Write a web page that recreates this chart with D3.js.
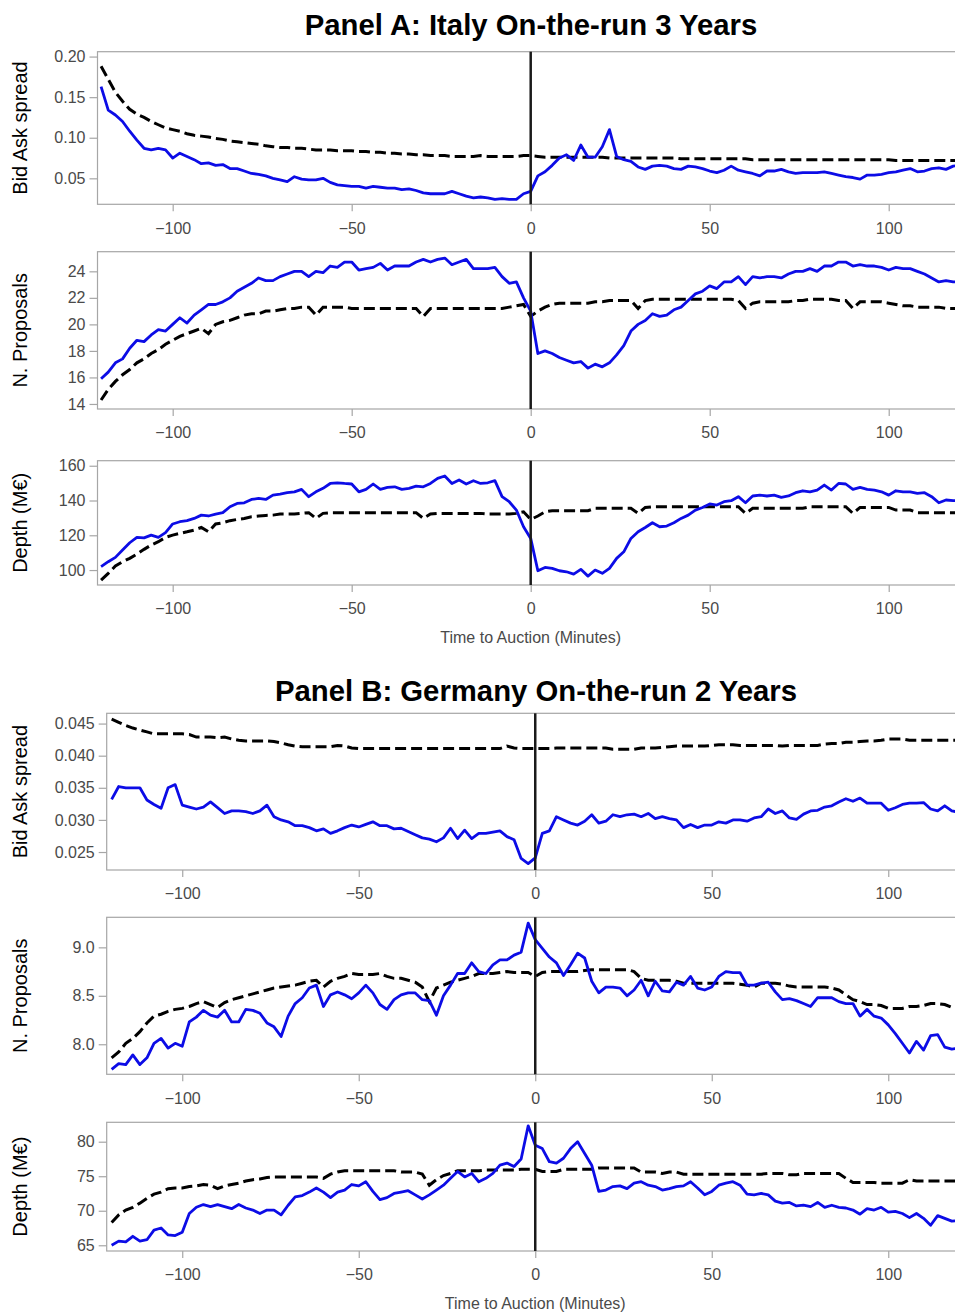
<!DOCTYPE html>
<html>
<head>
<meta charset="utf-8">
<script src="https://cdn.jsdelivr.net/npm/d3@7"></script>
<style>
  body { margin: 0; background: #fff; }
  svg { display: block; font-family: "Liberation Sans", Arial, sans-serif; }
</style>
</head>
<body>
<svg id="chart" width="955" height="1312"></svg>
<script>
// Time grid: minutes relative to the auction, every 2 minutes
const minutes = d3.range(-120, 121, 2);

// ---------- Panel A: Italy on-the-run 3 years ----------
// Solid blue = auction days, dashed black = other days
const itSpreadAuction = [
  0.163,0.134,0.128,0.120,0.108,0.097,0.087,0.085,0.087,0.085,
  0.075,0.081,0.077,0.073,0.068,0.069,0.066,0.067,0.062,0.062,
  0.059,0.056,0.055,0.053,0.050,0.048,0.046,0.052,0.049,0.048,
  0.048,0.050,0.045,0.042,0.041,0.040,0.040,0.038,0.040,0.039,
  0.038,0.038,0.036,0.037,0.035,0.032,0.031,0.031,0.031,0.034,
  0.031,0.028,0.026,0.027,0.026,0.024,0.025,0.024,0.024,0.031,
  0.034,
  0.053,0.058,0.066,0.075,0.079,0.072,0.091,0.076,0.076,0.089,
  0.110,0.077,0.073,0.071,0.064,0.061,0.065,0.066,0.065,0.062,
  0.061,0.065,0.064,0.062,0.059,0.057,0.060,0.065,0.060,0.058,
  0.056,0.053,0.059,0.059,0.061,0.058,0.056,0.057,0.057,0.057,
  0.058,0.056,0.054,0.052,0.051,0.049,0.054,0.054,0.055,0.057,
  0.058,0.060,0.062,0.058,0.059,0.062,0.063,0.061,0.065,0.066
];
const itSpreadOther = [
  0.188,0.172,0.156,0.145,0.135,0.129,0.125,0.120,0.116,0.112,
  0.110,0.108,0.105,0.103,0.102,0.101,0.099,0.098,0.096,0.095,
  0.094,0.093,0.092,0.090,0.089,0.088,0.088,0.087,0.087,0.086,
  0.085,0.085,0.085,0.084,0.084,0.084,0.083,0.083,0.082,0.082,
  0.081,0.081,0.080,0.080,0.079,0.079,0.078,0.078,0.078,0.077,
  0.077,0.077,0.077,0.078,0.077,0.077,0.077,0.077,0.077,0.078,
  0.078,
  0.077,0.076,0.076,0.076,0.076,0.076,0.076,0.076,0.076,0.076,
  0.075,0.075,0.075,0.075,0.075,0.075,0.075,0.075,0.075,0.075,
  0.074,0.074,0.074,0.074,0.074,0.074,0.074,0.074,0.074,0.074,
  0.073,0.073,0.073,0.073,0.073,0.073,0.073,0.073,0.073,0.073,
  0.073,0.073,0.073,0.073,0.073,0.073,0.073,0.073,0.073,0.073,
  0.072,0.072,0.072,0.072,0.072,0.072,0.072,0.072,0.072,0.072
];
const itProposalsAuction = [
  15.9,16.4,17.1,17.4,18.2,18.8,18.7,19.2,19.6,19.5,
  20.0,20.5,20.1,20.7,21.1,21.5,21.5,21.7,22.0,22.5,
  22.8,23.1,23.5,23.3,23.3,23.6,23.8,24.0,24.0,23.6,
  24.0,23.9,24.4,24.3,24.7,24.7,24.1,24.2,24.3,24.6,
  24.1,24.4,24.4,24.4,24.7,24.9,24.7,24.9,25.0,24.5,
  24.7,24.9,24.2,24.2,24.2,24.3,23.6,23.1,23.2,22.0,
  21.0,
  17.8,18.0,17.8,17.5,17.3,17.1,17.2,16.7,17.0,16.8,
  17.1,17.7,18.4,19.5,20.0,20.3,20.8,20.6,20.7,21.1,
  21.3,21.8,22.3,22.5,22.9,22.7,23.2,23.2,23.6,23.0,
  23.6,23.5,23.6,23.6,23.5,23.8,24.0,24.0,24.2,24.0,
  24.4,24.4,24.7,24.7,24.4,24.5,24.4,24.4,24.3,24.1,
  24.3,24.2,24.2,24.0,23.8,23.5,23.2,23.3,23.2,23.2
];
const itProposalsOther = [
  14.3,15.1,15.7,16.2,16.6,17.1,17.4,17.8,18.1,18.5,
  18.8,19.1,19.3,19.5,19.7,19.3,20.0,20.2,20.3,20.5,
  20.7,20.8,20.8,21.0,21.0,21.1,21.2,21.2,21.3,21.3,
  20.7,21.3,21.3,21.3,21.3,21.2,21.2,21.2,21.2,21.2,
  21.2,21.2,21.2,21.2,21.2,20.6,21.2,21.2,21.2,21.2,
  21.2,21.2,21.2,21.2,21.2,21.2,21.2,21.3,21.4,21.5,
  20.6,
  21.0,21.3,21.5,21.6,21.6,21.6,21.6,21.6,21.7,21.7,
  21.8,21.8,21.8,21.8,21.2,21.8,21.9,21.9,21.9,21.9,
  21.9,21.9,21.9,21.9,21.9,21.9,21.9,21.9,21.8,21.2,
  21.6,21.7,21.7,21.7,21.7,21.7,21.8,21.8,21.9,21.9,
  21.9,21.9,21.8,21.8,21.2,21.7,21.7,21.7,21.7,21.6,
  21.5,21.4,21.4,21.3,21.3,21.3,21.3,21.2,21.2,21.2
];
const itDepthAuction = [
  102.0,104.8,107.3,111.5,115.7,118.8,118.5,120.1,118.8,121.5,
  126.5,127.8,128.4,129.7,131.6,131.1,132.2,133.0,136.4,138.3,
  138.7,140.6,141.2,140.6,143.1,143.7,144.5,145.0,146.4,142.2,
  145.0,147.0,149.8,150.2,149.8,149.5,145.0,146.4,149.5,146.4,
  147.5,147.9,146.4,147.0,148.3,147.9,149.8,152.7,154.1,149.8,
  151.8,149.5,151.4,149.8,150.2,151.4,142.2,139.3,134.5,124.9,
  118.2,
  99.6,101.5,101.0,99.6,99.0,97.7,100.4,96.5,100.0,98.1,
  101.0,106.7,110.5,118.2,122.0,124.5,127.2,124.9,125.3,127.2,
  129.7,131.6,134.5,136.0,138.0,137.4,139.3,139.9,142.2,138.7,
  142.6,143.1,142.6,143.1,141.8,142.6,144.5,145.6,145.0,146.0,
  148.9,146.0,149.8,149.5,146.4,147.5,146.4,146.0,145.0,143.1,
  145.6,145.0,145.0,144.1,144.5,142.2,138.7,140.3,139.9,140.0
];
const itDepthOther = [
  94.2,98.1,102.3,104.8,106.7,109.2,111.9,114.4,116.3,118.8,
  120.1,121.1,122.0,123.0,124.5,122.0,126.5,127.2,128.4,129.1,
  129.7,130.7,131.1,131.4,131.6,132.2,132.2,132.2,132.6,133.0,
  129.7,132.6,133.0,133.0,133.0,133.0,133.0,133.0,133.0,133.0,
  133.0,133.0,133.0,133.0,133.0,129.7,132.2,132.6,132.6,132.6,
  132.6,132.6,132.6,132.6,132.2,132.2,132.2,132.2,132.6,133.5,
  129.1,
  131.1,133.5,134.1,134.1,134.1,134.1,134.1,134.1,135.5,135.5,
  135.5,135.5,135.5,135.5,132.6,136.0,136.4,136.4,136.4,136.4,
  136.4,136.4,136.4,136.4,136.4,136.4,136.4,136.4,136.4,132.6,
  135.5,135.5,135.5,135.5,135.5,135.5,135.5,135.5,136.4,136.4,
  136.4,136.4,136.4,136.4,132.6,136.0,136.0,136.0,136.0,136.0,
  134.5,134.5,134.5,133.0,133.0,133.0,133.0,133.0,133.0,133.0
];

// ---------- Panel B: Germany on-the-run 2 years ----------
const deSpreadAuction = [
  0.0332,0.0352,0.0350,0.0350,0.0350,0.0331,0.0324,0.0318,0.0350,0.0355,
  0.0323,0.0320,0.0317,0.0320,0.0328,0.0319,0.0310,0.0314,0.0314,0.0313,
  0.0310,0.0314,0.0323,0.0305,0.0300,0.0297,0.0291,0.0291,0.0288,0.0283,
  0.0286,0.0279,0.0283,0.0288,0.0292,0.0289,0.0293,0.0297,0.0291,0.0291,
  0.0286,0.0287,0.0282,0.0277,0.0272,0.0270,0.0266,0.0272,0.0287,0.0271,
  0.0284,0.0271,0.0279,0.0279,0.0281,0.0283,0.0274,0.0269,0.0240,0.0232,
  0.0241,
  0.0279,0.0283,0.0305,0.0300,0.0295,0.0292,0.0298,0.0308,0.0295,0.0298,
  0.0308,0.0305,0.0308,0.0309,0.0305,0.0310,0.0302,0.0305,0.0302,0.0300,
  0.0288,0.0293,0.0288,0.0292,0.0292,0.0297,0.0295,0.0300,0.0300,0.0298,
  0.0303,0.0305,0.0317,0.0310,0.0314,0.0303,0.0301,0.0309,0.0314,0.0315,
  0.0320,0.0322,0.0328,0.0333,0.0329,0.0334,0.0326,0.0326,0.0326,0.0315,
  0.0319,0.0324,0.0326,0.0326,0.0327,0.0317,0.0314,0.0322,0.0314,0.0312
];
const deSpreadOther = [
  0.0457,0.0452,0.0447,0.0443,0.0440,0.0437,0.0434,0.0434,0.0434,0.0434,
  0.0434,0.0433,0.0429,0.0429,0.0429,0.0428,0.0429,0.0426,0.0424,0.0423,
  0.0423,0.0423,0.0423,0.0422,0.0420,0.0417,0.0415,0.0414,0.0414,0.0414,
  0.0414,0.0414,0.0416,0.0415,0.0412,0.0411,0.0411,0.0411,0.0411,0.0411,
  0.0411,0.0411,0.0411,0.0411,0.0411,0.0411,0.0411,0.0411,0.0411,0.0411,
  0.0411,0.0411,0.0411,0.0411,0.0411,0.0411,0.0415,0.0412,0.0411,0.0411,
  0.0411,
  0.0411,0.0411,0.0412,0.0412,0.0412,0.0412,0.0412,0.0412,0.0412,0.0412,
  0.0410,0.0410,0.0410,0.0410,0.0412,0.0412,0.0412,0.0413,0.0414,0.0415,
  0.0415,0.0415,0.0415,0.0415,0.0416,0.0417,0.0417,0.0417,0.0416,0.0416,
  0.0416,0.0416,0.0416,0.0416,0.0415,0.0416,0.0416,0.0416,0.0416,0.0416,
  0.0418,0.0419,0.0419,0.0421,0.0421,0.0422,0.0423,0.0423,0.0424,0.0426,
  0.0426,0.0426,0.0424,0.0424,0.0424,0.0424,0.0424,0.0424,0.0424,0.0424
];
const deProposalsAuction = [
  7.74,7.80,7.79,7.89,7.79,7.86,8.01,8.06,7.96,8.01,
  7.98,8.23,8.28,8.35,8.30,8.28,8.35,8.23,8.23,8.36,
  8.35,8.32,8.22,8.18,8.08,8.29,8.42,8.48,8.58,8.61,
  8.39,8.51,8.54,8.51,8.47,8.53,8.61,8.53,8.41,8.36,
  8.46,8.51,8.53,8.53,8.46,8.45,8.30,8.50,8.61,8.73,
  8.73,8.84,8.75,8.73,8.82,8.87,8.87,8.92,8.95,9.25,
  9.08,
  8.99,8.90,8.84,8.71,8.82,8.94,8.89,8.65,8.53,8.59,
  8.59,8.58,8.50,8.56,8.66,8.50,8.65,8.55,8.54,8.64,
  8.61,8.70,8.58,8.56,8.59,8.70,8.75,8.74,8.74,8.61,
  8.61,8.63,8.64,8.54,8.46,8.47,8.45,8.42,8.39,8.48,
  8.48,8.48,8.44,8.42,8.42,8.29,8.36,8.29,8.27,8.20,
  8.11,8.01,7.91,8.03,7.94,8.09,8.10,7.97,7.95,7.96
];
const deProposalsOther = [
  7.86,7.92,8.01,8.06,8.13,8.22,8.29,8.31,8.34,8.36,
  8.37,8.39,8.42,8.44,8.41,8.38,8.43,8.46,8.48,8.50,
  8.52,8.54,8.56,8.58,8.59,8.60,8.61,8.63,8.65,8.66,
  8.59,8.65,8.68,8.70,8.73,8.72,8.72,8.72,8.73,8.70,
  8.68,8.68,8.66,8.64,8.59,8.44,8.58,8.61,8.64,8.66,
  8.68,8.70,8.73,8.73,8.73,8.74,8.75,8.74,8.74,8.74,
  8.70,
  8.74,8.75,8.75,8.75,8.75,8.75,8.76,8.77,8.77,8.77,
  8.77,8.77,8.77,8.75,8.68,8.66,8.66,8.66,8.66,8.65,
  8.63,8.63,8.63,8.63,8.63,8.63,8.63,8.63,8.62,8.61,
  8.59,8.63,8.63,8.63,8.62,8.60,8.59,8.59,8.59,8.59,
  8.59,8.58,8.56,8.51,8.46,8.44,8.41,8.41,8.40,8.37,
  8.37,8.37,8.39,8.39,8.40,8.42,8.42,8.41,8.38,8.37
];
const deDepthAuction = [
  65.0,65.6,65.5,66.3,65.6,65.8,67.2,67.5,66.5,66.4,
  66.9,69.6,70.5,70.9,70.6,70.9,70.6,70.3,70.9,70.4,
  70.1,69.6,70.1,70.1,69.4,70.8,72.0,72.2,72.7,73.3,
  72.7,71.9,72.7,73.0,73.8,73.6,74.2,72.8,71.6,71.9,
  72.5,72.7,72.9,72.3,71.7,72.3,73.0,73.7,74.7,75.7,
  74.9,75.4,74.2,74.7,75.4,76.6,76.9,76.4,77.5,82.3,
  79.5,
  79.0,77.1,76.9,77.6,79.0,80.0,78.3,76.6,72.8,73.0,
  73.5,73.6,73.2,74.0,74.2,73.7,73.5,73.0,73.2,73.5,
  73.6,74.2,73.3,72.3,72.8,73.7,74.0,74.2,73.7,72.4,
  72.3,72.5,72.3,71.4,71.1,71.2,70.7,70.8,70.6,71.2,
  70.5,70.8,70.5,70.4,70.1,69.5,70.3,70.1,70.5,69.8,
  69.9,69.6,69.0,69.6,68.9,67.9,69.3,68.9,68.5,68.6
];
const deDepthOther = [
  68.3,69.4,70.1,70.5,71.1,71.8,72.4,72.7,73.2,73.3,
  73.3,73.5,73.6,73.8,73.7,73.2,73.6,73.8,74.0,74.3,
  74.5,74.6,74.8,74.9,74.9,74.9,74.9,74.9,74.9,74.9,
  74.7,75.3,75.6,75.8,75.8,75.8,75.8,75.8,75.8,75.8,
  75.8,75.6,75.6,75.6,75.3,73.7,74.5,75.1,75.4,75.8,
  75.8,75.8,75.8,75.9,75.9,75.9,75.9,75.9,76.0,76.0,
  76.0,
  75.7,75.7,75.7,76.0,76.0,76.0,76.0,76.0,76.2,76.2,
  76.2,76.2,76.2,76.2,75.6,75.6,75.6,75.4,75.6,75.6,
  75.3,75.3,75.3,75.3,75.3,75.3,75.3,75.3,75.3,75.3,
  75.3,75.3,75.4,75.4,75.4,75.2,75.2,75.4,75.4,75.4,
  75.4,75.4,75.4,74.7,74.1,74.1,74.1,74.1,74.0,74.0,
  74.0,74.0,74.5,74.3,74.3,74.3,74.3,74.3,74.3,74.3
];

// Axis ticks
const xTicks = [-100, -50, 0, 50, 100];
const itSpreadTicks = [0.05, 0.10, 0.15, 0.20];
const itProposalTicks = [14, 16, 18, 20, 22, 24];
const itDepthTicks = [100, 120, 140, 160];
const deSpreadTicks = [0.025, 0.030, 0.035, 0.040, 0.045];
const deProposalTicks = [8.0, 8.5, 9.0];
const deDepthTicks = [65, 70, 75, 80];

const panels = [
  {
    title: "Panel A: Italy On-the-run 3 Years", titleY: 35, titleX: 531,
    xDomain: [-121, 121], xRange: [97.5, 963.9], xTitleY: 643,
    rows: [
      { top: 51.7, bottom: 204.3, yDomain: [0.018, 0.206], ticks: itSpreadTicks, fmt: ".2f",
        label: "Bid Ask spread", solid: itSpreadAuction, dashed: itSpreadOther },
      { top: 251.7, bottom: 409, yDomain: [13.62, 25.48], ticks: itProposalTicks, fmt: "d",
        label: "N. Proposals", solid: itProposalsAuction, dashed: itProposalsOther },
      { top: 460.7, bottom: 585, yDomain: [91.4, 162.9], ticks: itDepthTicks, fmt: "d",
        label: "Depth (M€)", solid: itDepthAuction, dashed: itDepthOther }
    ]
  },
  {
    title: "Panel B: Germany On-the-run 2 Years", titleY: 701, titleX: 536,
    xDomain: [-121.4, 121.4], xRange: [106.7, 963.8], xTitleY: 1309,
    rows: [
      { top: 713.3, bottom: 870, yDomain: [0.0222, 0.0466], ticks: deSpreadTicks, fmt: ".3f",
        label: "Bid Ask spread", solid: deSpreadAuction, dashed: deSpreadOther },
      { top: 917.3, bottom: 1074.3, yDomain: [7.69, 9.31], ticks: deProposalTicks, fmt: ".1f",
        label: "N. Proposals", solid: deProposalsAuction, dashed: deProposalsOther },
      { top: 1122.3, bottom: 1251, yDomain: [64.17, 82.81], ticks: deDepthTicks, fmt: "d",
        label: "Depth (M€)", solid: deDepthAuction, dashed: deDepthOther }
    ]
  }
];

const svg = d3.select("#chart");
const frameColor = "#a6a6a6";
const tickTextColor = "#4a4a4a";

panels.forEach(panel => {
  const x = d3.scaleLinear().domain(panel.xDomain).range(panel.xRange);

  svg.append("text")
    .attr("x", panel.titleX).attr("y", panel.titleY)
    .attr("text-anchor", "middle")
    .attr("font-size", 29.3).attr("font-weight", "bold").attr("fill", "#000")
    .text(panel.title);

  panel.rows.forEach(row => {
    const y = d3.scaleLinear().domain(row.yDomain).range([row.bottom, row.top]);
    const g = svg.append("g");

    // plot frame
    g.append("rect")
      .attr("x", panel.xRange[0]).attr("y", row.top)
      .attr("width", panel.xRange[1] - panel.xRange[0])
      .attr("height", row.bottom - row.top)
      .attr("fill", "none").attr("stroke", frameColor).attr("stroke-width", 1.2);

    // x axis
    const xAxis = g.append("g")
      .attr("transform", `translate(0,${row.bottom})`)
      .call(d3.axisBottom(x).tickValues(xTicks).tickSize(7).tickPadding(11).tickFormat(d3.format("d")));
    // y axis
    const yAxis = g.append("g")
      .attr("transform", `translate(${panel.xRange[0]},0)`)
      .call(d3.axisLeft(y).tickValues(row.ticks).tickSize(8).tickPadding(4).tickFormat(d3.format(row.fmt)));

    [xAxis, yAxis].forEach(ax => {
      ax.select(".domain").remove();
      ax.selectAll(".tick line").attr("stroke", frameColor).attr("stroke-width", 1.2);
      ax.selectAll(".tick text")
        .attr("fill", tickTextColor)
        .attr("font-size", 16)
        .attr("font-family", "\"Liberation Sans\", Arial, sans-serif");
    });

    // y axis title
    g.append("text")
      .attr("transform", `translate(27,${(row.top + row.bottom) / 2}) rotate(-90)`)
      .attr("text-anchor", "middle")
      .attr("font-size", 20).attr("fill", "#000")
      .text(row.label);

    const line = d3.line()
      .x((d, i) => x(minutes[i]))
      .y(d => y(d));

    g.append("path")
      .datum(row.dashed)
      .attr("d", line)
      .attr("fill", "none").attr("stroke", "#000")
      .attr("stroke-width", 3).attr("stroke-dasharray", "11,5");

    g.append("path")
      .datum(row.solid)
      .attr("d", line)
      .attr("fill", "none").attr("stroke", "#0c0ce6")
      .attr("stroke-width", 2.8).attr("stroke-linejoin", "round");

    // auction time marker
    g.append("line")
      .attr("x1", x(0)).attr("x2", x(0))
      .attr("y1", row.top).attr("y2", row.bottom)
      .attr("stroke", "#1a1a1a").attr("stroke-width", 2.5);
  });

  svg.append("text")
    .attr("x", x(0)).attr("y", panel.xTitleY)
    .attr("text-anchor", "middle")
    .attr("font-size", 16).attr("fill", tickTextColor)
    .text("Time to Auction (Minutes)");
});
</script>
</body>
</html>
